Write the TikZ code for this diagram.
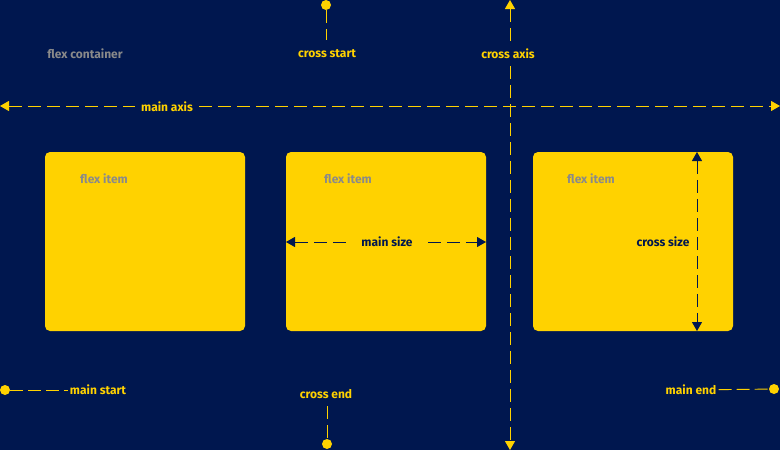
\documentclass[tikz,border=0pt]{standalone}
\usepackage{fontspec}
\setmainfont{Fira Sans}
\usetikzlibrary{arrows.meta}
\definecolor{bg}{RGB}{0,23,79}
\definecolor{yel}{RGB}{255,210,0}
\definecolor{gry}{RGB}{138,138,138}
\begin{document}
\begin{tikzpicture}[x=1pt,y=-1pt,
  lbl/.style={font=\fontsize{12}{14}\selectfont\bfseries, inner sep=2pt},
  ylbl/.style={lbl,text=yel},
  glbl/.style={lbl,text=gry},
  item/.style={fill=yel,rounded corners=5pt,draw=none},
  ydash/.style={draw=yel,line width=0.9pt,dash pattern=on 13pt off 6pt},
  ndash/.style={draw=bg,line width=0.9pt,dash pattern=on 13pt off 6pt},
  dot/.style={circle,fill=yel,inner sep=0pt,minimum size=10pt},
  tip/.style={-{Triangle[length=9pt,width=10pt]}}]
\fill[bg] (0,0) rectangle (780,450);
\useasboundingbox (0,0) rectangle (780,450);
\fill[item] (45,152) rectangle (245,331);
\fill[item] (286,152) rectangle (486,331);
\fill[item] (533,152) rectangle (733,331);
\node[glbl] (fc) at (85,54) {flex container};
\node[glbl] (f1) at (104,179) {flex item};
\node[glbl] (f2) at (348,179) {flex item};
\node[glbl] (f3) at (591,179) {flex item};
% main axis
\coordinate (ml) at (0,106);
\coordinate (mr) at (780,106);
\draw[ydash,{Triangle[length=9pt,width=10pt]}-{Triangle[length=9pt,width=10pt]}] (ml) -- (mr);
\node[ylbl,fill=bg,inner xsep=6pt] (ma) at (167,107) {main axis};
% cross axis
\coordinate (ct) at (510,0);
\coordinate (cb) at (510,450);
\draw[ydash,{Triangle[length=9pt,width=10pt]}-{Triangle[length=9pt,width=10pt]}] (ct) -- (cb);
\node[ylbl,fill=bg] (ca) at (508,54) {cross axis};
% cross start
\node[dot] (csd) at (326,5) {};
\coordinate (cse) at (326,40);
\draw[ydash] (csd) -- (cse);
\node[ylbl] (cs) at (327,54) {cross start};
% cross end
\node[ylbl] (ce) at (326,394) {cross end};
\node[dot] (ced) at (327,444) {};
\coordinate (cee) at (327,406);
\draw[ydash] (cee) -- (ced);
% main start
\node[dot] (msd) at (5,390) {};
\node[ylbl] (ms) at (98,390) {main start};
\draw[ydash,dash pattern=on 13pt off 5pt] (msd) -- (ms);
% main end
\node[dot] (med) at (774,389) {};
\node[ylbl] (me) at (691,390) {main end};
\draw[ydash,dash pattern=on 13pt off 5pt] (me) -- (med);
% main size
\coordinate (sl) at (286,242);
\coordinate (sr) at (486,242);
\draw[ndash,{Triangle[length=9pt,width=10pt]}-{Triangle[length=9pt,width=10pt]}] (sl) -- (sr);
\node[lbl,text=bg,fill=yel,inner xsep=14pt] (msz) at (387,242) {main size};
% cross size
\coordinate (zt) at (697,152);
\coordinate (zb) at (697,331);
\draw[ndash,{Triangle[length=9pt,width=10pt]}-{Triangle[length=9pt,width=10pt]}] (zt) -- (zb);
\node[lbl,text=bg,fill=yel] (csz) at (663,242) {cross size};
\end{tikzpicture}
\end{document}
